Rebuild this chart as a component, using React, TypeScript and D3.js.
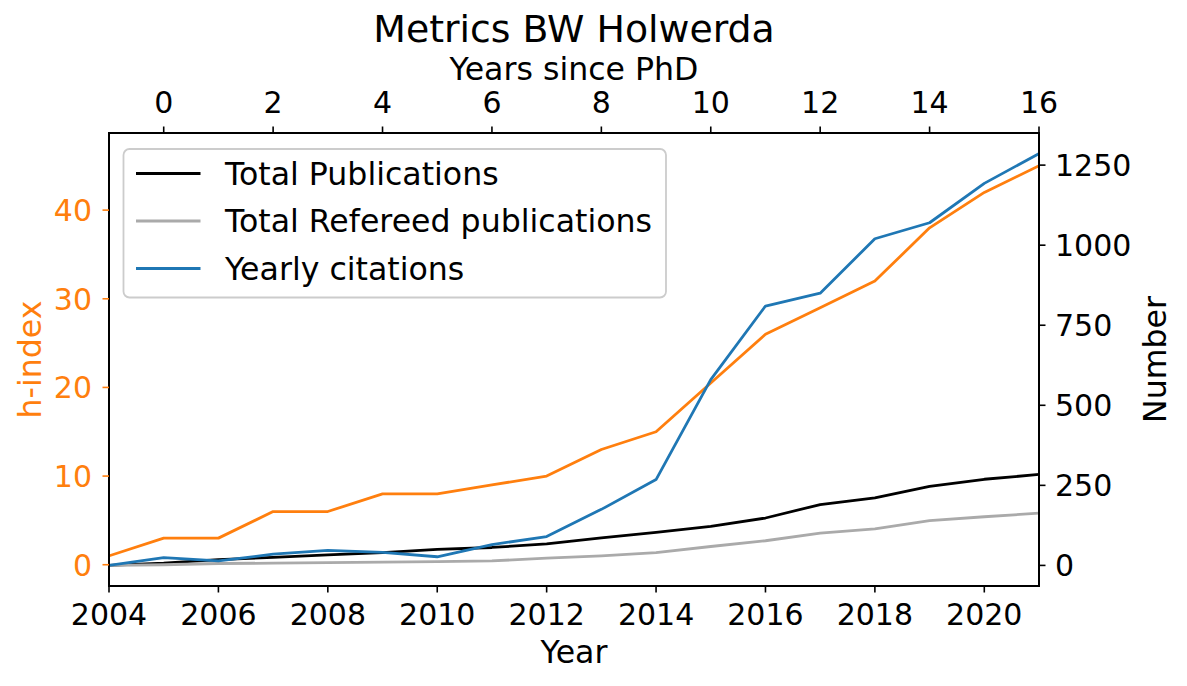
import React from 'react'
import * as d3 from 'd3'

// data
const years = [2004, 2005, 2006, 2007, 2008, 2009, 2010, 2011, 2012, 2013, 2014, 2015, 2016, 2017, 2018, 2019, 2020, 2021]
const hIndex = [1, 3, 3, 6, 6, 8, 8, 9, 10, 13, 15, 20.5, 26, 29, 32, 38, 42, 45]
const totalPubs = [0, 7, 18, 25, 33, 40, 50, 56, 67, 86, 103, 122, 148, 190, 211, 247, 269, 284]
const refereedPubs = [0, 2, 6, 7, 9, 10, 12, 14, 23, 30, 40, 59, 77, 101, 114, 140, 152, 163]
const yearlyCitations = [0, 24, 14, 35, 47, 41, 27, 65, 90, 175, 268, 580, 810, 850, 1020, 1070, 1193, 1286]

const yearTicks = [2004, 2006, 2008, 2010, 2012, 2014, 2016, 2018, 2020]
const phdTicks = [0, 2, 4, 6, 8, 10, 12, 14, 16]
const hTicks = [0, 10, 20, 30, 40]
const numTicks = [0, 250, 500, 750, 1000, 1250]
const phdYear = 2005

const W = 1187
const H = 686
const box = { left: 109, right: 1039, top: 133, bottom: 586 }
const font = 'DejaVu Sans, sans-serif'
const fs = 30 // tick labels
const fl = 31.6 // axis labels + legend
const orange = '#ff7f0e'
const blue = '#1f77b4'
const gray = '#aaaaaa'

const series = [
  { label: 'Total Publications', color: '#000000', values: totalPubs },
  { label: 'Total Refereed publications', color: gray, values: refereedPubs },
  { label: 'Yearly citations', color: blue, values: yearlyCitations },
]

export default function App() {
  const x = d3.scaleLinear().domain([2004, 2021]).range([box.left, box.right])
  const yH = d3.scaleLinear().domain([-2.4, 48.7]).range([box.bottom, box.top])
  const yN = d3.scaleLinear().domain([-64.3, 1350.3]).range([box.bottom, box.top])

  const lineH = d3
    .line<number>()
    .x((d, i) => x(years[i]))
    .y((d) => yH(d))
  const lineN = d3
    .line<number>()
    .x((d, i) => x(years[i]))
    .y((d) => yN(d))

  const tick = 6.5
  const lw = 2.8

  return (
    <svg
      width={W}
      height={H}
      style={{ position: 'absolute', left: 0, top: 0, background: '#fff' }}
      fontFamily={font}
    >
      <rect x={0} y={0} width={W} height={H} fill="#fff" />
      <defs>
        <clipPath id="plot">
          <rect x={box.left} y={box.top} width={box.right - box.left} height={box.bottom - box.top} />
        </clipPath>
      </defs>

      {/* lines */}
      <g clipPath="url(#plot)" fill="none" strokeWidth={lw} strokeLinejoin="round" strokeLinecap="square">
        <path d={lineH(hIndex) || ''} stroke={orange} />
        {series.map((s) => (
          <path key={s.label} d={lineN(s.values) || ''} stroke={s.color} />
        ))}
      </g>

      {/* spines */}
      <rect
        x={box.left}
        y={box.top}
        width={box.right - box.left}
        height={box.bottom - box.top}
        fill="none"
        stroke="#000"
        strokeWidth={2}
      />

      {/* bottom axis */}
      {yearTicks.map((t) => (
        <g key={'b' + t}>
          <line x1={x(t)} x2={x(t)} y1={box.bottom} y2={box.bottom + tick} stroke="#000" strokeWidth={1.6} />
          <text x={x(t)} y={625} fontSize={fs} textAnchor="middle">
            {t}
          </text>
        </g>
      ))}
      <text x={(box.left + box.right) / 2} y={663} fontSize={fl} textAnchor="middle">
        Year
      </text>

      {/* top axis */}
      {phdTicks.map((t) => (
        <g key={'t' + t}>
          <line x1={x(t + phdYear)} x2={x(t + phdYear)} y1={box.top} y2={box.top - tick} stroke="#000" strokeWidth={1.6} />
          <text x={x(t + phdYear)} y={112.5} fontSize={fs} textAnchor="middle">
            {t}
          </text>
        </g>
      ))}
      <text x={(box.left + box.right) / 2} y={80} fontSize={fl} textAnchor="middle">
        Years since PhD
      </text>
      <text x={(box.left + box.right) / 2} y={42} fontSize={37.8} textAnchor="middle">
        Metrics BW Holwerda
      </text>

      {/* left axis */}
      {hTicks.map((t) => (
        <g key={'l' + t}>
          <line x1={box.left} x2={box.left - tick} y1={yH(t)} y2={yH(t)} stroke={orange} strokeWidth={1.6} />
          <text x={box.left - 17} y={yH(t)} dy="0.36em" fontSize={fs} textAnchor="end" fill={orange}>
            {t}
          </text>
        </g>
      ))}
      <text
        transform={`translate(41,${(box.top + box.bottom) / 2}) rotate(-90)`}
        fontSize={fl}
        textAnchor="middle"
        fill={orange}
      >
        h-index
      </text>

      {/* right axis */}
      {numTicks.map((t) => (
        <g key={'r' + t}>
          <line x1={box.right} x2={box.right + tick} y1={yN(t)} y2={yN(t)} stroke="#000" strokeWidth={1.6} />
          <text x={box.right + 16} y={yN(t)} dy="0.36em" fontSize={fs} textAnchor="start">
            {t}
          </text>
        </g>
      ))}
      <text
        transform={`translate(1166,${(box.top + box.bottom) / 2}) rotate(-90)`}
        fontSize={fl}
        textAnchor="middle"
      >
        Number
      </text>

      {/* legend */}
      <rect x={123.5} y={149} width={542.5} height={148.5} rx={6} fill="#fff" fillOpacity={0.8} stroke="#cccccc" strokeWidth={1.8} />
      {series.map((s, i) => {
        const cy = 173.5 + i * 47.5
        return (
          <g key={'lg' + s.label}>
            <line x1={136} x2={200.5} y1={cy} y2={cy} stroke={s.color} strokeWidth={lw} />
            <text x={225} y={cy} dy="0.36em" fontSize={fl}>
              {s.label}
            </text>
          </g>
        )
      })}
    </svg>
  )
}
